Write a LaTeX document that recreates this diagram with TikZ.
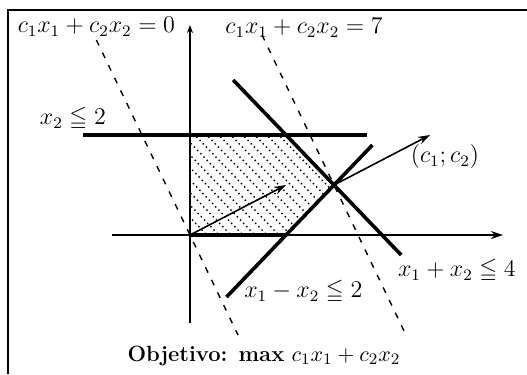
\documentclass[tikz,border=0pt]{standalone}
\usepackage{tikz}
\usepackage{amssymb,amsmath}
\usetikzlibrary{calc,arrows.meta}
\newcommand{\Hatch}[1]{%
  \foreach \i in {-2.25,-2.0,...,3.2} {\draw[dash pattern=on 0.7pt off 1.6pt, line width=0.7pt] (\i,#1) -- ++(2.4,-2.4);}}

\begin{document}
\begin{tikzpicture}[x=24pt,y=25pt,
  every node/.style={font=\fontsize{11.5}{13}\selectfont},
  constraint/.style={line width=1.8pt},
  levelline/.style={dash pattern=on 3pt off 4pt, line width=0.7pt},
  axisline/.style={line width=0.6pt},
  cvec/.style={line width=0.8pt, -{Stealth[length=6pt,width=4pt]}}]
\useasboundingbox (-3.958,-2.78) rectangle (7.02,4.7);
\draw[line width=0.8pt] (7.02,4.5) -- (-3.79,4.5) -- (-3.79,-2.78);
% feasible set
\coordinate (O) at (0,0);
\coordinate (A) at (2,0);
\coordinate (B) at (3,1);
\coordinate (C) at (2,2);
\coordinate (D) at (0,2);
\begin{scope}
  \clip (O) -- (A) -- (B) -- (C) -- (D) -- cycle;
  \Hatch{2.1}
\end{scope}
% axes
\draw[axisline,-{Stealth[length=6pt,width=4pt]}] (-1.62,0) -- (6.52,0);
\draw[axisline,-{Stealth[length=4pt,width=3pt]}] (0,-1.76) -- (0,4.2);
% level lines
\draw[levelline] (-1.95,3.9) -- (1.0,-2.0);
\draw[levelline] (1.5,4.0) -- (4.5,-2.0);
% constraints
\draw[constraint] (-2.23,2) -- (3.69,2);
\draw[constraint] (0.9,3.1) -- (4.4,-0.4);
\draw[constraint] (0.76,-1.24) -- (3.8,1.8);
\draw[constraint] (O) -- (A);
% objective direction
\draw[cvec] (O) -- (2,1);
\draw[cvec] (B) -- (5,2);
% labels
\node (lev0) at (-1.95,4.16) {$c_1x_1 + c_2x_2 = 0$};
\node (lev7) at (2.375,4.15) {$c_1x_1 + c_2x_2 = 7$};
\node (g1) at (-2.44,2.32) {$x_2 \leqq 2$};
\node (cc) at (5.31,1.57) {$(c_1;c_2)$};
\node (g2) at (5.56,-0.72) {$x_1 + x_2 \leqq 4$};
\node (g3) at (2.36,-1.14) {$x_1 - x_2 \leqq 2$};
\node[font=\fontsize{11}{13}\selectfont] (obj) at (1.54,-2.42) {\textbf{Objetivo: max} $c_1x_1 + c_2x_2$};
\end{tikzpicture}
\end{document}
